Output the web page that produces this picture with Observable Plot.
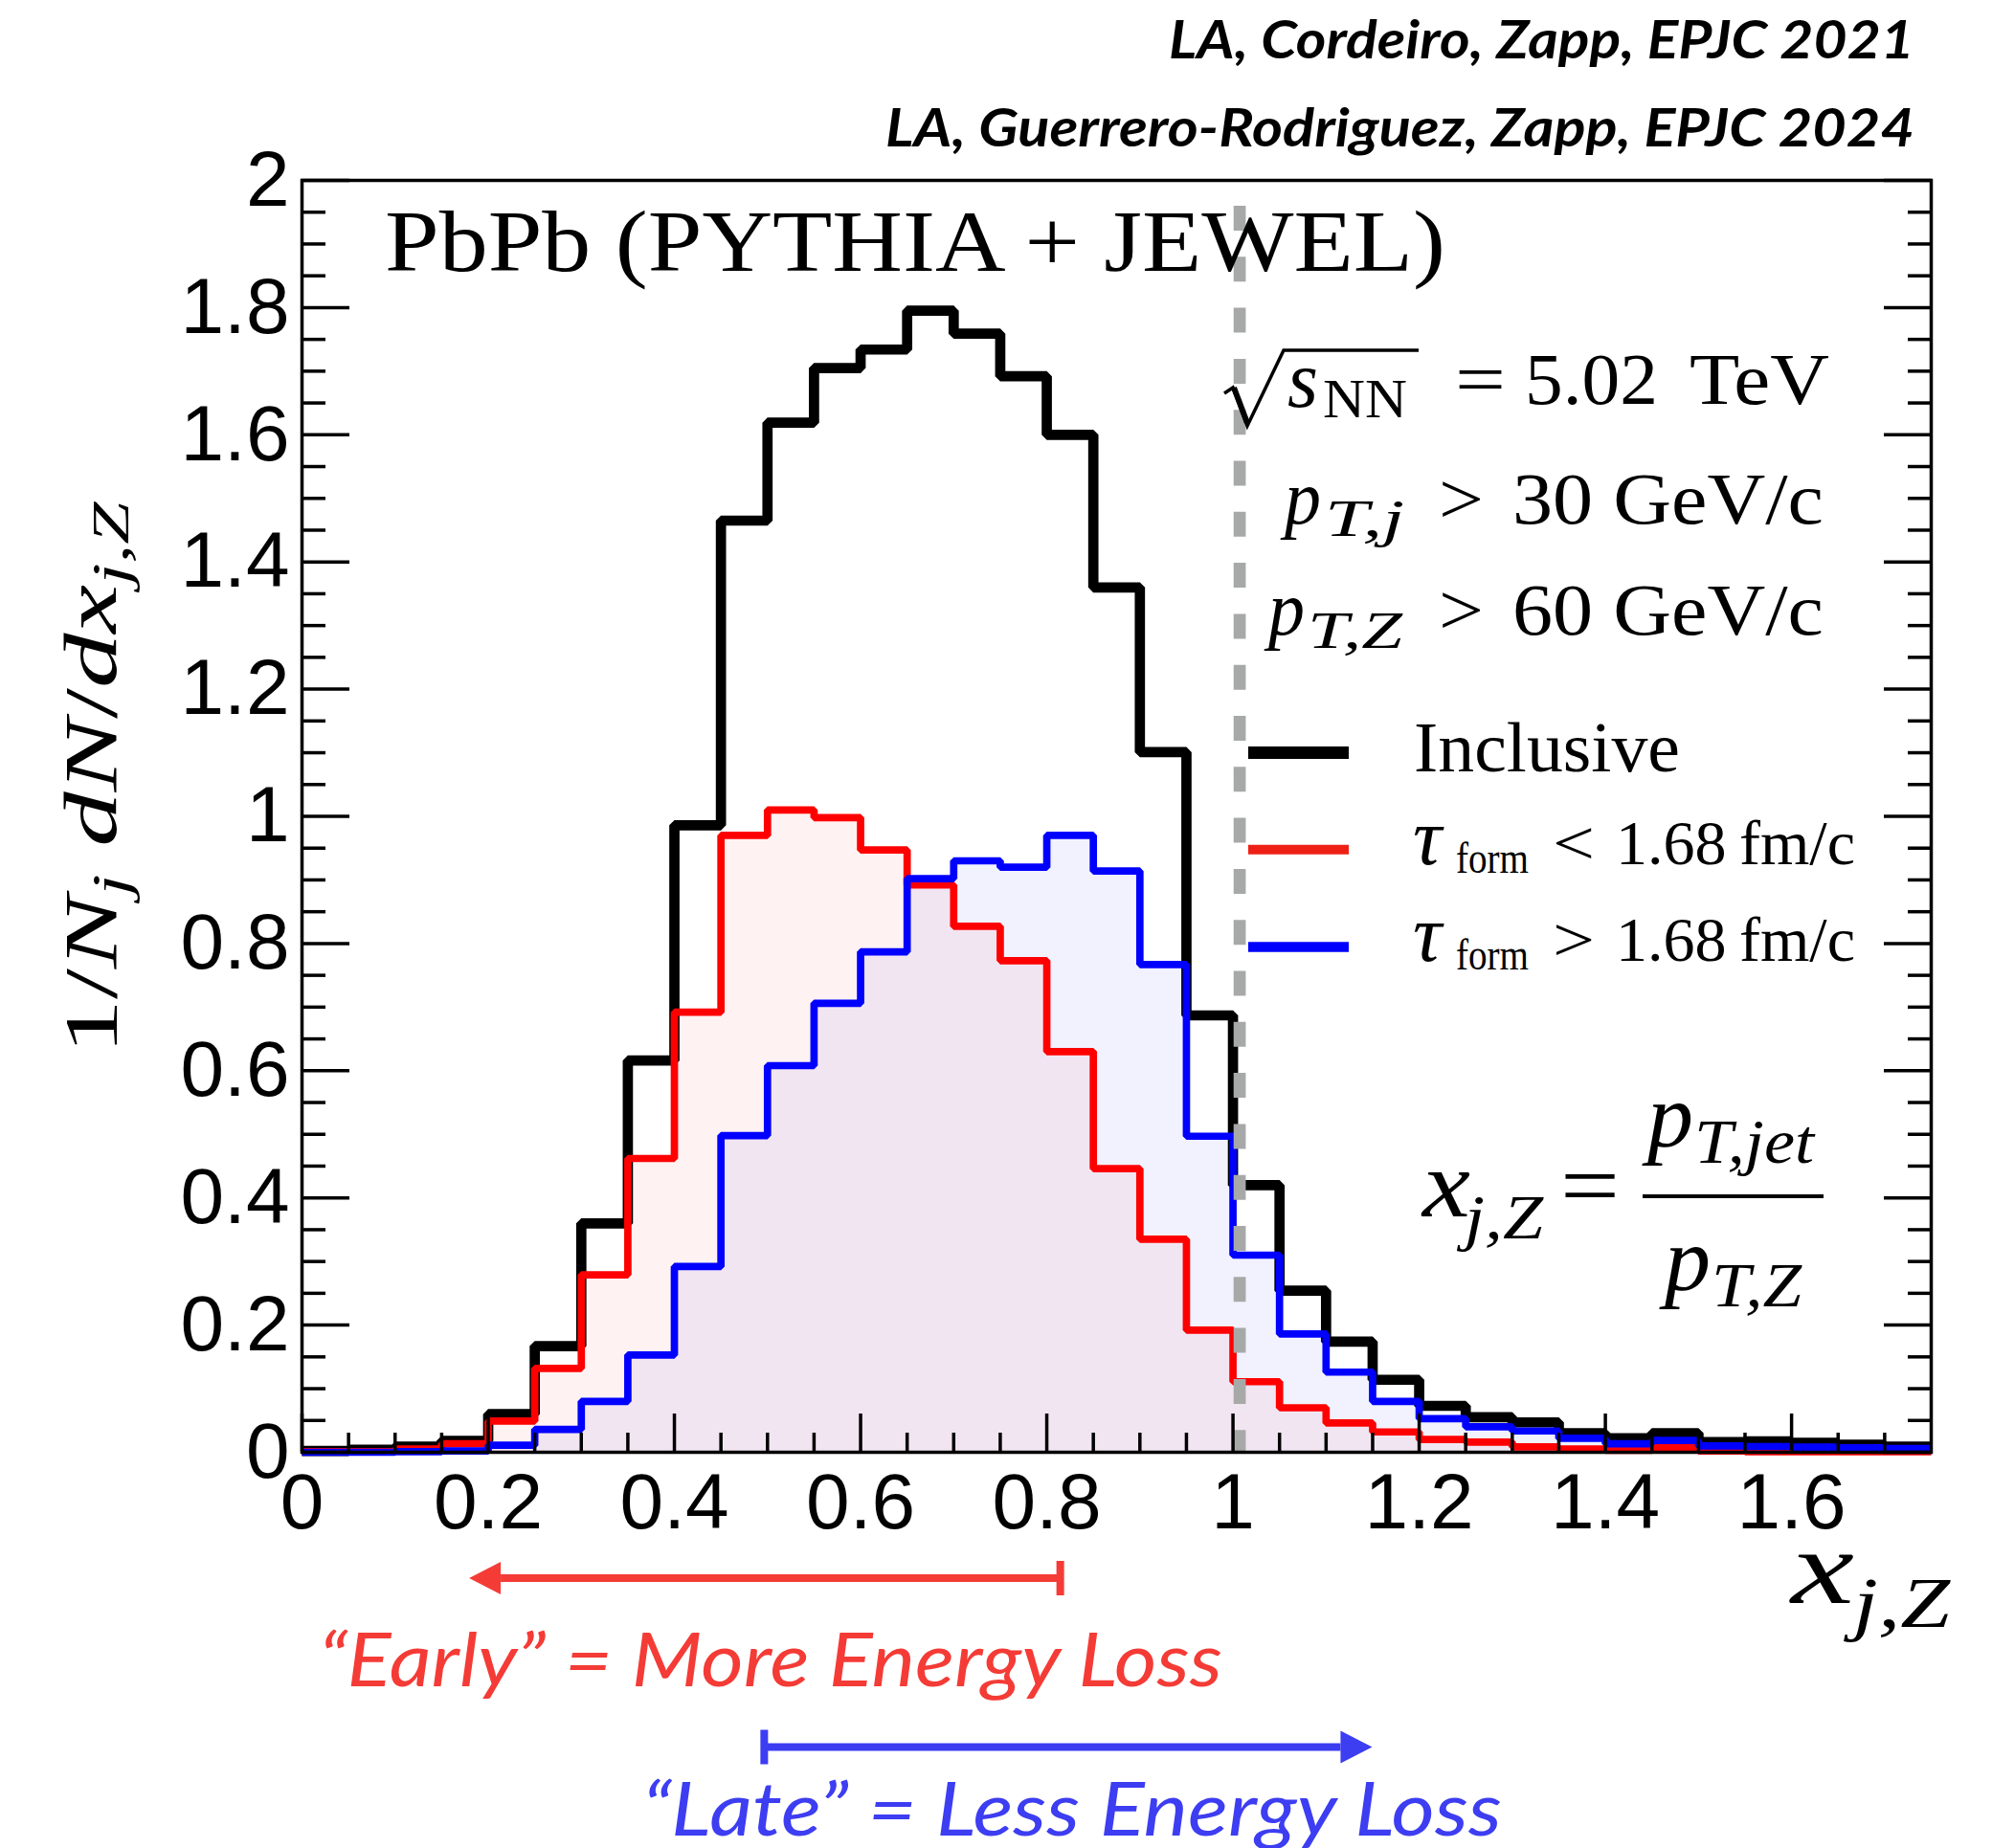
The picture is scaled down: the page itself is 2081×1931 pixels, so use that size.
<!DOCTYPE html>
<html>
<head>
<meta charset="utf-8">
<script src="https://cdn.jsdelivr.net/npm/d3@7"></script>
<script src="https://cdn.jsdelivr.net/npm/@observablehq/plot@0.6"></script>
<style>
  html, body { margin: 0; padding: 0; background: #fff; }
  svg { display: block; }
</style>
</head>
<body>
<div id="chart"></div>
<script>
// x_{j,Z} histograms, PbPb (PYTHIA + JEWEL); bins of width 0.05
const binLow = [0.00, 0.05, 0.10, 0.15, 0.20, 0.25, 0.30, 0.35, 0.40, 0.45,
                0.50, 0.55, 0.60, 0.65, 0.70, 0.75, 0.80, 0.85, 0.90, 0.95,
                1.00, 1.05, 1.10, 1.15, 1.20, 1.25, 1.30, 1.35, 1.40, 1.45,
                1.50, 1.55, 1.60, 1.65, 1.70];
const binWidth = 0.05;

// Inclusive
const inclusive = [0.002, 0.004, 0.009, 0.018, 0.060, 0.167, 0.360, 0.616, 0.986, 1.465,
                   1.619, 1.705, 1.734, 1.795, 1.759, 1.692, 1.600, 1.360, 1.101, 0.687,
                   0.420, 0.254, 0.174, 0.114, 0.073, 0.055, 0.047, 0.030, 0.022, 0.030,
                   0.016, 0.017, 0.015, 0.012, 0.009];
// tau_form < 1.68 fm/c
const early = [0.001, 0.001, 0.005, 0.0135, 0.049, 0.132, 0.279, 0.462, 0.692, 0.970,
               1.010, 0.998, 0.947, 0.892, 0.827, 0.773, 0.630, 0.446, 0.335, 0.192,
               0.111, 0.070, 0.046, 0.032, 0.020, 0.016, 0.0085, 0.005, 0.003, 0.008,
               0.002, 0.001, 0.001, 0.001, 0.001];
// tau_form > 1.68 fm/c
const late = [0.000, 0.000, 0.001, 0.002, 0.011, 0.036, 0.080, 0.153, 0.292, 0.498,
              0.608, 0.706, 0.787, 0.902, 0.930, 0.920, 0.970, 0.914, 0.767, 0.497,
              0.310, 0.186, 0.126, 0.080, 0.053, 0.040, 0.0335, 0.022, 0.0135, 0.0185,
              0.010, 0.009, 0.008, 0.007, 0.006];

const xDomain = [0, 1.75];
const yDomain = [0, 2];
const xMajor = [0, 0.2, 0.4, 0.6, 0.8, 1.0, 1.2, 1.4, 1.6];
const xMinor = [0.05, 0.10, 0.15, 0.25, 0.30, 0.35, 0.45, 0.50, 0.55, 0.65, 0.70, 0.75,
                0.85, 0.90, 0.95, 1.05, 1.10, 1.15, 1.25, 1.30, 1.35, 1.45, 1.50, 1.55,
                1.65, 1.70];
const yMajor = [0, 0.2, 0.4, 0.6, 0.8, 1.0, 1.2, 1.4, 1.6, 1.8, 2.0];
const yMinor = [0.05, 0.10, 0.15, 0.25, 0.30, 0.35, 0.45, 0.50, 0.55, 0.65, 0.70, 0.75,
                0.85, 0.90, 0.95, 1.05, 1.10, 1.15, 1.25, 1.30, 1.35, 1.45, 1.50, 1.55,
                1.65, 1.70, 1.75, 1.85, 1.90, 1.95];
const refLine = [1.0];
// the two x_{j,Z} ranges marked under the axis
const arrowSpans = [
  {from: 0.815, to: 0.18, color: "#f43b36"},
  {from: 0.497, to: 1.15, color: "#3d3df2"}
];

// step outline: one point per lower bin edge plus the closing upper edge
const points = binLow.map((x, i) => ({x, inclusive: inclusive[i], early: early[i], late: late[i]}));
points.push({x: binLow[binLow.length - 1] + binWidth,
             inclusive: inclusive[inclusive.length - 1],
             early: early[early.length - 1],
             late: late[late.length - 1]});

const SANS = "'Liberation Sans', Arial, Helvetica, sans-serif";
const SERIF = "'Liberation Serif', 'DejaVu Serif', serif";
const NOTE = "Lato, 'Open Sans', sans-serif";
const fmt = d => String(+d.toFixed(2));
const blank = () => "";
const AX = 3.5;

const plot = Plot.plot({
  width: 2081,
  height: 1931,
  marginTop: 188,
  marginLeft: 315,
  marginRight: 64,
  marginBottom: 414,
  style: {background: "#fff", fontFamily: SANS, overflow: "visible"},
  x: {domain: xDomain},
  y: {domain: yDomain},
  marks: [
    Plot.areaY(points, {x: "x", y: "early", curve: "step-after", fill: "#ff0000", fillOpacity: 0.05}),
    Plot.areaY(points, {x: "x", y: "late", curve: "step-after", fill: "#0000ff", fillOpacity: 0.05}),
    Plot.line(points, {x: "x", y: "inclusive", curve: "step-after", stroke: "#000", strokeWidth: 10.7, strokeLinejoin: "miter", strokeLinecap: "butt"}),
    Plot.line(points, {x: "x", y: "early", curve: "step-after", stroke: "#ff0000", strokeWidth: 7.7, strokeLinejoin: "miter", strokeLinecap: "butt"}),
    Plot.line(points, {x: "x", y: "late", curve: "step-after", stroke: "#0000ff", strokeWidth: 7.7, strokeLinejoin: "miter", strokeLinecap: "butt"}),
    Plot.ruleX(refLine, {y1: yDomain[1], y2: yDomain[0], dx: 7, stroke: "#a7a9a8", strokeWidth: 12.7, strokeDasharray: "26 27.3", strokeDashoffset: 26.3}),
    Plot.frame({stroke: "#000", strokeWidth: AX}),
    // tick labels
    Plot.axisY(yMajor, {anchor: "left", tickSize: 0, tickPadding: 13, tickFormat: fmt, fontSize: 82, fontFamily: SANS, label: null}),
    Plot.axisX(xMajor, {anchor: "bottom", tickSize: 0, tickPadding: 21, tickFormat: fmt, fontSize: 82, fontFamily: SANS, label: null}),
    // inward ticks on all four sides
    Plot.axisY(yMajor, {anchor: "left", tickSize: -50, tickFormat: blank, strokeWidth: AX, label: null}),
    Plot.axisY(yMinor, {anchor: "left", tickSize: -25, tickFormat: blank, strokeWidth: AX, label: null}),
    Plot.axisY(yMajor, {anchor: "right", tickSize: -50, tickFormat: blank, strokeWidth: AX, label: null}),
    Plot.axisY(yMinor, {anchor: "right", tickSize: -25, tickFormat: blank, strokeWidth: AX, label: null}),
    Plot.axisX(xMajor, {anchor: "bottom", tickSize: -40, tickFormat: blank, strokeWidth: AX, label: null}),
    Plot.axisX(xMinor, {anchor: "bottom", tickSize: -20, tickFormat: blank, strokeWidth: AX, label: null})
  ]
});
document.getElementById("chart").appendChild(plot);

const svg = d3.select(plot);
const xs = plot.scale("x");
const ann = svg.append("g").attr("class", "annotations");

function put(x, y, s, {size = 70, family = SERIF, italic = false, weight = null, anchor = "start", length = null, fill = "#000"} = {}) {
  const t = ann.append("text")
    .attr("x", x).attr("y", y)
    .attr("font-size", size).attr("font-family", family)
    .attr("fill", fill).attr("text-anchor", anchor)
    .text(s);
  if (italic) t.attr("font-style", "italic");
  if (weight) t.attr("font-weight", weight);
  if (length) t.attr("textLength", length).attr("lengthAdjust", "spacingAndGlyphs");
  return t;
}

// publication references
put(2000, 61, "LA, Cordeiro, Zapp, EPJC 2021", {size: 56, family: NOTE, italic: true, weight: 700, anchor: "end", length: 779});
put(2000, 153, "LA, Guerrero-Rodriguez, Zapp, EPJC 2024", {size: 56, family: NOTE, italic: true, weight: 700, anchor: "end", length: 1075});

// system label
put(402, 283, "PbPb (PYTHIA + JEWEL)", {size: 92, length: 1108});

// sqrt(s_NN) = 5.02 TeV
ann.append("path").attr("d", "M1279,411 L1288,405 L1303,445 L1341,366 L1482,366")
  .attr("fill", "none").attr("stroke", "#000").attr("stroke-width", 3.5).attr("stroke-linejoin", "miter");
ann.append("path").attr("d", "M1289,405 L1303,442").attr("stroke", "#000").attr("stroke-width", 6);
put(1345, 425, "s", {size: 84, italic: true, length: 32});
put(1382, 436, "NN", {size: 56, length: 88});
put(1520, 422, "=", {size: 76, length: 53});
put(1593, 422, "5.02", {size: 76, length: 139});
put(1765, 422, "TeV", {size: 76, length: 146});

// jet and Z cuts
put(1342, 547, "p", {size: 80, italic: true, length: 38});
put(1384, 560, "T,j", {size: 54, italic: true, length: 83});
put(1503, 547, ">", {size: 76, length: 47});
put(1580, 547, "30 GeV/c", {size: 76, length: 325});
put(1325, 663, "p", {size: 80, italic: true, length: 38});
put(1366, 677, "T,Z", {size: 54, italic: true, length: 99});
put(1503, 663, ">", {size: 76, length: 47});
put(1580, 663, "60 GeV/c", {size: 76, length: 325});

// legend
const legend = [
  {y: 786.5, color: "#000", width: 13},
  {y: 887.7, color: "#ee2015", width: 10},
  {y: 989.5, color: "#0000ff", width: 10.5}
];
ann.selectAll("line.key").data(legend).join("line").attr("class", "key")
  .attr("x1", 1304).attr("x2", 1409)
  .attr("y1", d => d.y).attr("y2", d => d.y)
  .attr("stroke", d => d.color).attr("stroke-width", d => d.width);
put(1477, 806, "Inclusive", {size: 74, length: 278});
put(1476, 903, "\u03C4", {size: 84, italic: true});
put(1521, 912, "form", {size: 46, length: 76});
put(1622, 903, "<", {size: 66, length: 44});
put(1688, 903, "1.68\u2009fm/c", {size: 66, length: 250});
put(1476, 1004, "\u03C4", {size: 84, italic: true});
put(1521, 1013, "form", {size: 46, length: 76});
put(1622, 1004, ">", {size: 66, length: 44});
put(1688, 1004, "1.68\u2009fm/c", {size: 66, length: 250});

// definition of x_{j,Z}
put(1486, 1271, "x", {size: 100, italic: true, length: 50});
put(1530, 1294, "j,Z", {size: 66, italic: true, length: 82});
put(1630, 1271, "=", {size: 96, length: 62});
ann.append("line").attr("x1", 1716).attr("x2", 1905).attr("y1", 1250).attr("y2", 1250)
  .attr("stroke", "#000").attr("stroke-width", 4);
put(1721, 1198, "p", {size: 96, italic: true, length: 48});
put(1770, 1215, "T,jet", {size: 66, italic: true, length: 125});
put(1739, 1348, "p", {size: 96, italic: true, length: 48});
put(1788, 1365, "T,Z", {size: 66, italic: true, length: 94});

// axis titles
const yt = ann.append("text")
  .attr("transform", "translate(121,813) rotate(-90)")
  .attr("text-anchor", "middle").attr("font-family", SERIF).attr("font-size", 78)
  .attr("textLength", 577).attr("lengthAdjust", "spacingAndGlyphs");
yt.append("tspan").text("1/");
yt.append("tspan").attr("font-style", "italic").text("N");
yt.append("tspan").attr("font-style", "italic").attr("font-size", 54).attr("dy", 13).text("j");
yt.append("tspan").attr("dy", -13).text(" ");
yt.append("tspan").attr("font-style", "italic").text("dN");
yt.append("tspan").text("/");
yt.append("tspan").attr("font-style", "italic").text("dx");
yt.append("tspan").attr("font-style", "italic").attr("font-size", 54).attr("dy", 13).text("j,Z");

put(1871, 1675, "x", {size: 110, italic: true, length: 66});
put(1936, 1700, "j,Z", {size: 74, italic: true, length: 101});

// early / late arrows under the axis
const arrowRows = [1649, 1825.5];
arrowSpans.forEach((a, i) => {
  const y = arrowRows[i];
  const x0 = xs.apply(a.from), x1 = xs.apply(a.to);
  const dir = Math.sign(x1 - x0);
  const head = 33, half = 17;
  ann.append("line").attr("x1", x0).attr("x2", x1 - dir * head).attr("y1", y).attr("y2", y)
    .attr("stroke", a.color).attr("stroke-width", 8);
  ann.append("line").attr("x1", x0).attr("x2", x0).attr("y1", y - 18).attr("y2", y + 18)
    .attr("stroke", a.color).attr("stroke-width", 8);
  ann.append("path")
    .attr("d", `M${x1},${y} L${x1 - dir * head},${y - half} L${x1 - dir * head},${y + half} Z`)
    .attr("fill", a.color);
});
put(333, 1762, "\u201CEarly\u201D = More Energy Loss", {size: 78, family: NOTE, italic: true, fill: "#f43b36", length: 944});
put(671, 1918, "\u201CLate\u201D = Less Energy Loss", {size: 78, family: NOTE, italic: true, fill: "#3d3df2", length: 898});
</script>
</body>
</html>
